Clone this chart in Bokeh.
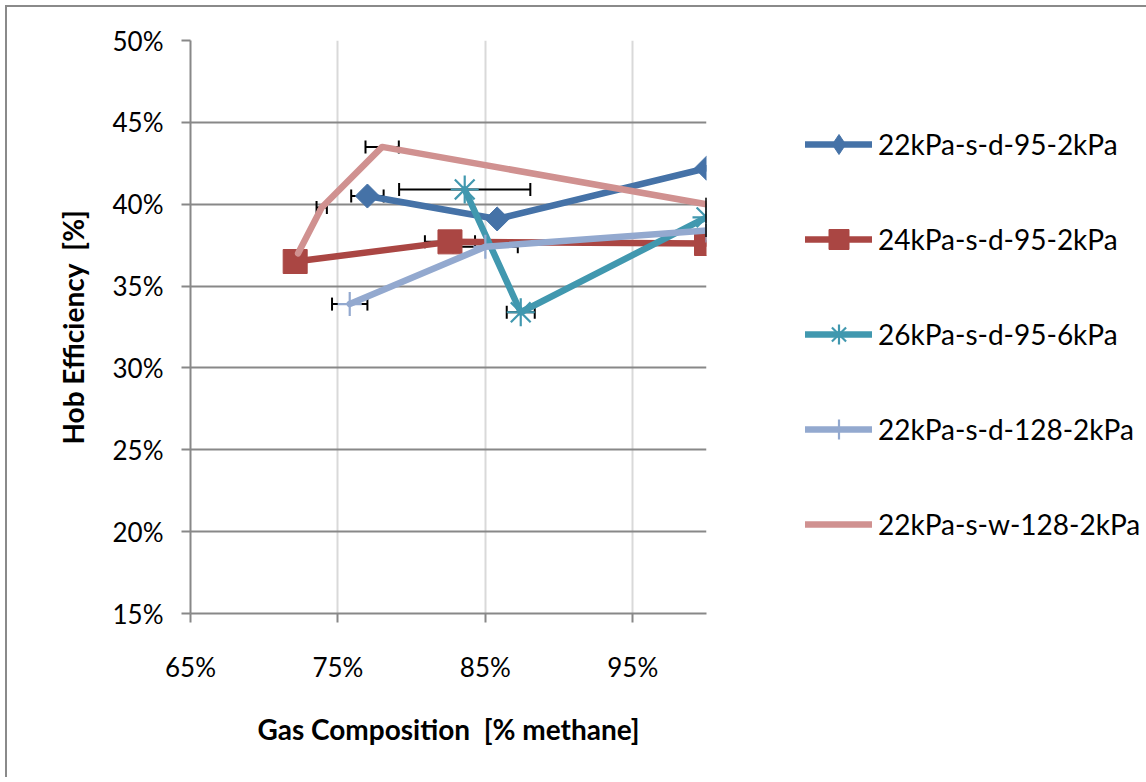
import math
from bokeh.plotting import figure
from bokeh.models import (ColumnDataSource, Whisker, TeeHead, Legend, LegendItem,
                          FixedTicker, PrintfTickFormatter, Range1d)
from bokeh.embed import file_html
from bokeh.resources import INLINE

# ---------------- data ----------------
series_names = ["22kPa-s-d-95-2kPa", "24kPa-s-d-95-2kPa", "26kPa-s-d-95-6kPa",
                "22kPa-s-d-128-2kPa", "22kPa-s-w-128-2kPa"]

x_s1 = [77.0, 85.8, 100.0]
y_s1 = [40.5, 39.1, 42.2]
xerr_s1 = [1.1, None, None]

x_s2 = [72.1, 82.6, 100.0]
y_s2 = [36.5, 37.7, 37.6]
xerr_s2 = [None, 1.7, None]

x_s3 = [83.6, 87.4, 100.0]
y_s3 = [40.9, 33.4, 39.2]
xerr_s3 = [4.45, 0.95, 0.0]

x_s4 = [75.8, 85.0, 100.0]
y_s4 = [33.9, 37.4, 38.4]
xerr_s4 = [1.2, 2.2, 0.0]

x_s5 = [72.3, 73.9, 78.0, 100.0]
y_s5 = [37.0, 39.8, 43.5, 40.0]
xerr_s5 = [None, 0.35, 1.13, 0.0]

x_ticks = [65, 75, 85, 95]
y_ticks = [15, 20, 25, 30, 35, 40, 45, 50]

colors = ["#4572A7", "#AA4643", "#4198AF", "#93A9CF", "#D09190"]

FONT = "Lato"

p = figure(frame_width=516, frame_height=573, output_backend="svg", toolbar_location=None,
           x_range=Range1d(65, 100), y_range=Range1d(15, 50),
           min_border_left=183, min_border_right=0, min_border_top=33,
           min_border_bottom=164)
p.outline_line_color = None
p.background_fill_color = "white"
p.border_fill_color = "white"
p.styles = {"margin-left": "5px", "margin-top": "5px",
            "border-left": "2px solid #8a8a8a", "border-top": "2px solid #8a8a8a"}

# axes
for ax in (p.xaxis[0], p.yaxis[0]):
    ax.axis_line_color = "#888888"
    ax.axis_line_width = 2
    ax.major_tick_line_color = "#888888"
    ax.major_tick_line_width = 2
    ax.major_tick_in = 0
    ax.minor_tick_line_color = None
    ax.major_label_text_font = FONT
    ax.major_label_text_font_size = "26px"
    ax.major_label_text_color = "black"
    ax.axis_label_text_font = FONT
    ax.axis_label_text_font_style = "bold"
    ax.axis_label_text_font_size = "28px"
    ax.axis_label_text_color = "black"
    ax.formatter = PrintfTickFormatter(format="%d%%")

p.xaxis.ticker = FixedTicker(ticks=x_ticks)
p.yaxis.ticker = FixedTicker(ticks=y_ticks)
p.xaxis.major_tick_out = 9
p.yaxis.major_tick_out = 9
p.xaxis.major_label_standoff = 28
p.yaxis.major_label_standoff = 18
p.xaxis.axis_label = "Gas Composition \u00a0[% methane]"
p.yaxis.axis_label = "Hob Efficiency \u00a0[%]"
p.xaxis.axis_label_standoff = 26
p.yaxis.axis_label_standoff = 20

p.xgrid.grid_line_color = "#d9d9d9"
p.xgrid.grid_line_width = 2
p.ygrid.grid_line_color = "#888888"
p.ygrid.grid_line_width = 2

xs = [x_s1, x_s2, x_s3, x_s4, x_s5]
ys = [y_s1, y_s2, y_s3, y_s4, y_s5]
errs = [xerr_s1, xerr_s2, xerr_s3, xerr_s4, xerr_s5]

# plot marker style / legend marker style
plot_markers = [("square", 17, math.pi / 4), ("square", 24, 0), ("asterisk", 28, 0),
                ("cross", 24, 0), None]
legend_markers = ["diamond", "square", "asterisk", "cross", None]


def add_whisker(base, lo, hi, level):
    if not base:
        return
    wsrc = ColumnDataSource(dict(base=base, lower=lo, upper=hi))
    w = Whisker(source=wsrc, base="base", lower="lower", upper="upper",
                dimension="width", line_color="black", line_width=2,
                lower_head=TeeHead(size=13, line_color="black", line_width=2),
                upper_head=TeeHead(size=13, line_color="black", line_width=2),
                level=level)
    p.add_layout(w)


items = []
for i in range(5):
    src = ColumnDataSource(dict(x=xs[i], y=ys[i]))
    # horizontal error bars: real ones beneath the lines, zero-width caps on top
    b1, l1, h1, b0, l0, h0 = [], [], [], [], [], []
    for xv, yv, ev in zip(xs[i], ys[i], errs[i]):
        if ev is None:
            continue
        if ev > 0:
            b1.append(yv); l1.append(xv - ev); h1.append(xv + ev)
        else:
            b0.append(yv); l0.append(xv); h0.append(xv)
    add_whisker(b1, l1, h1, "underlay")

    rl = p.line("x", "y", source=src, line_color=colors[i], line_width=6.5,
                line_join="round", line_cap="round")
    rends = [rl]
    if plot_markers[i] is not None:
        mk, sz, ang = plot_markers[i]
        if mk in ("asterisk", "cross"):
            p.scatter("x", "y", source=src, marker=mk, size=sz, angle=ang,
                      line_color=colors[i], line_width=2.2, fill_color=None)
            proxy = p.scatter("x", "y", source=src, marker=legend_markers[i],
                              line_color=colors[i], line_width=2.2, fill_color=None,
                              visible=False)
        else:
            p.scatter("x", "y", source=src, marker=mk, size=sz, angle=ang,
                      line_color=colors[i], fill_color=colors[i])
            proxy = p.scatter("x", "y", source=src, marker=legend_markers[i],
                              line_color=colors[i], fill_color=colors[i], visible=False)
        rends.append(proxy)
    add_whisker(b0, l0, h0, "glyph")
    items.append(LegendItem(label=series_names[i], renderers=rends))

legend = Legend(items=items, location=(99, 64), orientation="vertical")
legend.glyph_width = 67
legend.glyph_height = 50
legend.label_height = 50
legend.spacing = 45
legend.padding = 0
legend.margin = 0
legend.label_standoff = 6
legend.label_text_font = FONT
legend.label_text_font_size = "28px"
legend.label_text_color = "black"
legend.border_line_color = None
legend.background_fill_alpha = 0
p.add_layout(legend, "right")

open("out.html", "w").write(file_html(p, INLINE))
